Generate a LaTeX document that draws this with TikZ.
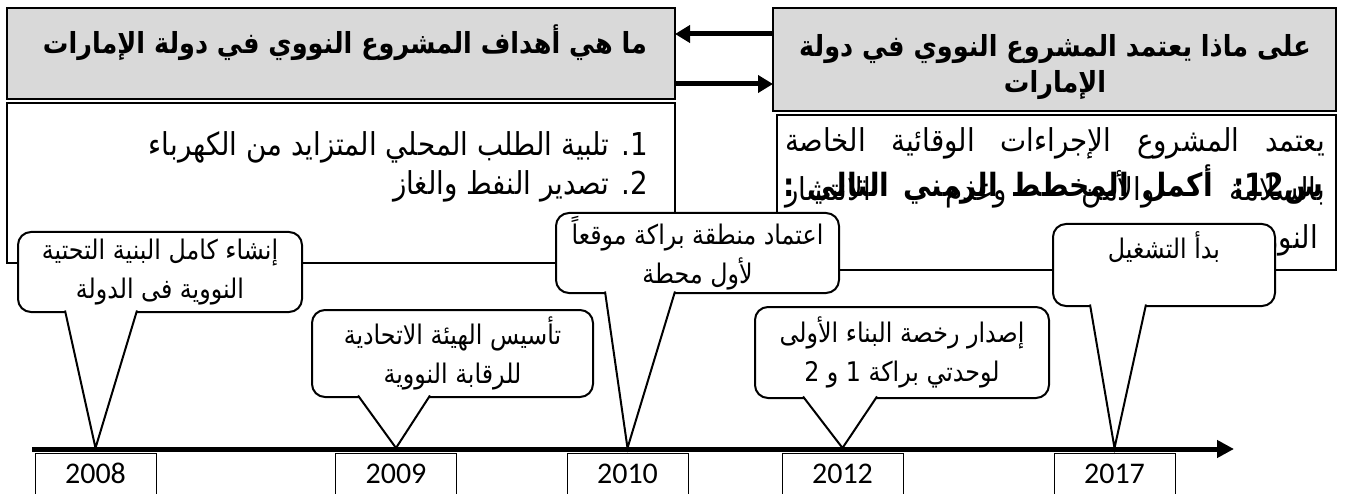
\documentclass[tikz,border=0pt]{standalone}
\usepackage{fontspec}
\usetikzlibrary{arrows.meta,calc}
\newfontfamily\arabicfont[Script=Arabic,FakeStretch=0.88]{DejaVu Sans}
\newfontfamily\yearfont{Carlito}
\TeXXeTstate=1
\definecolor{headgray}{HTML}{D9D9D9}
\newcommand{\ar}[1]{\beginR #1\endR}
\newcommand{\pointer}[4]{\draw[calltail] ($(#1.south)+(#3,-1.5)$) -- ($(#2.north)+(0,-5)$) -- ($(#1.south)+(#4,-1.5)$);}
\tikzset{
  headbox/.style={draw, line width=2.5, fill=headgray, inner sep=0, outer sep=0},
  textbox/.style={draw, line width=1.5, fill=white, inner sep=0, outer sep=0},
  bubble/.style={draw, line width=2, fill=white, rounded corners=13, align=center, inner sep=0, outer sep=0, font=\arabicfont\fontsize{27}{39}\selectfont},
  calltail/.style={draw, line width=2, fill=white, line join=miter},
  yearbox/.style={draw, line width=1, minimum width=121, minimum height=41, inner sep=0, outer sep=0, font=\yearfont\fontsize{30}{36}\selectfont},
  headtext/.style={font=\arabicfont\bfseries\fontsize{29}{36}\selectfont, align=center, inner sep=0},
  bodytext/.style={font=\arabicfont\fontsize{31.5}{34}\selectfont, inner sep=0},
  bigarrow/.style={line width=5, -{Triangle[length=15pt,width=17pt]}},
}
\begin{document}
\begin{tikzpicture}[x=1pt, y=-1pt]
  \useasboundingbox (0,0) rectangle (1346,494);
  % questions
  \node[headbox, minimum width=668, minimum height=91] (hl) at (341,53.5) {};
  \node[headbox, minimum width=563, minimum height=103] (hr) at (1054.5,59.5) {};
  \node[headtext] (hltxt) at (345,43) {\ar{ما هي أهداف المشروع النووي في دولة الإمارات}};
  \node[headtext] (hrtxt) at (1055,67) {\ar{على ماذا يعتمد المشروع النووي في دولة}\\ \ar{الإمارات}};
  \draw[bigarrow] ($(hr.north west)+(0,26)$) -- ($(hl.north east)+(0,26)$);
  \draw[bigarrow] ($(hl.north east)+(0,76)$) -- ($(hr.north west)+(0,76)$);
  % answers
  \node[textbox, minimum width=668, minimum height=160] (cl) at (341,183) {};
  \node[textbox, minimum width=559, minimum height=155] (cr) at (1056.5,192.5) {};
  \node[bodytext, anchor=east] (g1) at (648,147) {\ar{1\kern0pt. تلبية الطلب المحلي المتزايد من الكهرباء}};
  \node[bodytext, anchor=east] (g2) at (648,186) {\ar{2\kern0pt. تصدير النفط والغاز}};
  \node[bodytext] (r1) at (1055,143) {\makebox[540pt][s]{\ar{يعتمد المشروع الإجراءات الوقائية الخاصة}}};
  \node[bodytext] (r2) at (1055,189) {\makebox[540pt][s]{\ar{بالسلامة والأمن وعدم الانتشار}}};
  \node[bodytext, font=\arabicfont\bfseries\fontsize{32}{34}\selectfont] (q12) at (1053,185) {\makebox[540pt][s]{\ar{س12: أكمل المخطط الزمني التالي :}}};
  \node[bodytext, anchor=east] (r3) at (1318,240) {\ar{النووي}};
  % years
  \node[yearbox] (y2008) at (95.5,473.5) {2008};
  \node[yearbox] (y2009) at (396,473.5) {2009};
  \node[yearbox] (y2010) at (627.5,473.5) {2010};
  \node[yearbox] (y2012) at (842.5,473.5) {2012};
  \node[yearbox] (y2017) at (1114.5,473.5) {2017};
  % events
  \node[bubble, minimum width=284, minimum height=80] (b2008) at (160,272) {\ar{إنشاء كامل البنية التحتية}\\ \ar{النووية فى الدولة}};
  \node[bubble, minimum width=281, minimum height=87] (b2009) at (452.5,353.5) {\ar{تأسيس الهيئة الاتحادية}\\ \ar{للرقابة النووية}};
  \node[bubble, minimum width=283, minimum height=80] (b2010) at (697.5,253) {\ar{اعتماد منطقة براكة موقعاً}\\ \ar{لأول محطة}};
  \node[bubble, minimum width=294, minimum height=91] (b2012) at (902,352.5) {\ar{إصدار رخصة البناء الأولى}\\ \ar{لوحدتي براكة 1 و 2}};
  \node[bubble, minimum width=222, minimum height=82, text depth=40] (b2017) at (1164,265) {\ar{بدأ التشغيل}};
  \pointer{b2008}{y2008}{-95}{-23}
  \pointer{b2009}{y2009}{-94.5}{-22.5}
  \pointer{b2010}{y2010}{-92.5}{-22.5}
  \pointer{b2012}{y2012}{-99}{-25}
  \pointer{b2017}{y2017}{-74}{-18}
  % time axis
  \coordinate (ax0) at (32,449);
  \coordinate (ax1) at (1234,449);
  \draw[line width=5, -{Triangle[length=17pt,width=17pt]}] (ax0) -- (ax1);
\end{tikzpicture}
\end{document}
